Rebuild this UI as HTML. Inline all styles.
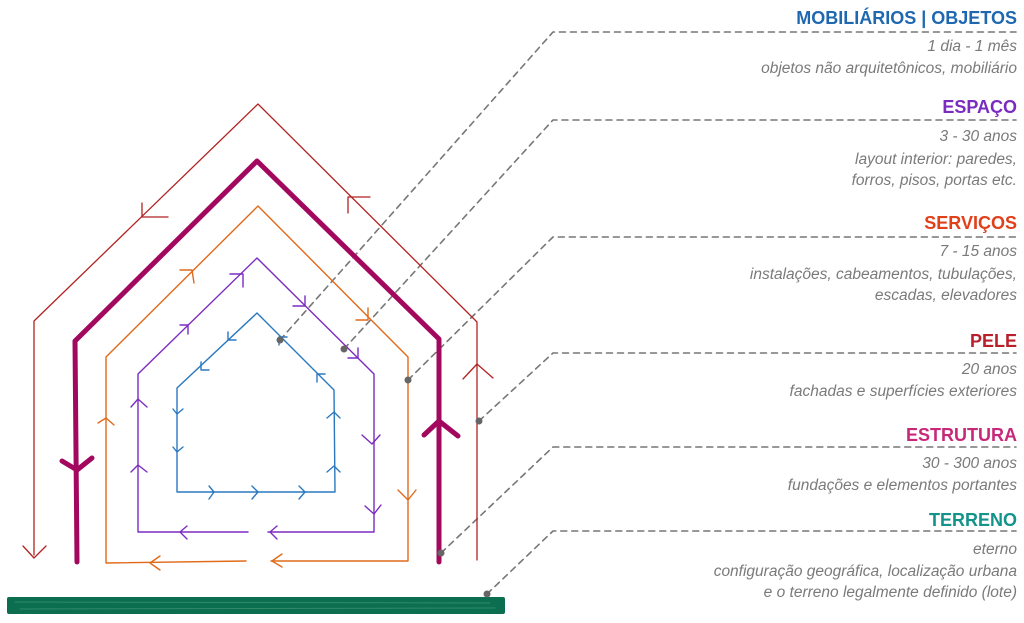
<!DOCTYPE html>
<html><head><meta charset="utf-8"><style>
html,body{margin:0;padding:0;background:#fff;width:1024px;height:623px;overflow:hidden}
svg{position:absolute;left:0;top:0}
.t{font-family:"Liberation Sans",sans-serif;text-anchor:end}
.h{font-weight:bold;font-size:18px}
.s{font-style:italic;font-size:15.5px;fill:#7a7a7a}
</style></head><body>
<svg width="1024" height="623" viewBox="0 0 1024 623" fill="none" stroke-linecap="round" stroke-linejoin="round">
<!-- leaders -->
<g stroke="#777" stroke-width="1.6" stroke-dasharray="6,5">
<polyline points="280,340 553,32 1016,32"/>
<polyline points="344,349 553,120 1016,120"/>
<polyline points="408,380 553,237 1016,237"/>
<polyline points="479,421 553,353 1016,353"/>
<polyline points="441,553 553,447 1016,447"/>
<polyline points="487,594 553,531 1016,531"/>
</g>
<!-- ground -->
<rect x="7" y="597" width="498" height="17" rx="2" fill="#0b6e4f"/>
<g stroke="#2f8a6a" stroke-width="1"><line x1="15" y1="602" x2="490" y2="603"/><line x1="20" y1="609" x2="495" y2="608"/></g>
<!-- pele red -->
<g stroke="#b22222" stroke-width="1.3">
<polyline points="34,555 34,321 258,104 477,322 477,560"/>
<polyline points="23,546 34,558 46,546"/>
<polyline points="142,203 142,217 168,217"/>
<polyline points="348,213 348,197 370,197"/>
<polyline points="463,379 477,364 493,378"/>
</g>
<!-- estrutura magenta -->
<g stroke="#a3085f" stroke-width="5">
<polyline points="77,562 75,341 257,161 439,339 439,562"/>
<polyline points="62,461 77,470 92,458"/>
<polyline points="424,435 439,421 458,436"/>
</g>
<!-- orange -->
<g stroke="#e06a1a" stroke-width="1.4">
<polyline points="246,561 106,563 106,357 258,206 408,357 408,561 271,561"/>
<polyline points="98,423 106,418 114,425"/>
<polyline points="180,270 192,270 194,283"/>
<polyline points="356,320 368,320 368,308"/>
<polyline points="398,490 408,500 416,490"/>
<polyline points="160,556 150,563 160,570"/>
<polyline points="282,554 272,561 282,567"/>
</g>
<!-- purple -->
<g stroke="#7b2cc0" stroke-width="1.4">
<polyline points="248,532 138,532 138,374 257,258 374,374 374,532 268,532"/>
<polyline points="131,407 138,399 147,407"/>
<polyline points="131,472 138,465 147,472"/>
<polyline points="180,325 188,325 188,334"/>
<polyline points="230,274 243,274 243,287"/>
<polyline points="293,306 305,306 305,296"/>
<polyline points="348,358 358,358 358,348"/>
<polyline points="362,435 372,444 380,435"/>
<polyline points="365,506 374,514 381,505"/>
<polyline points="187,526 180,532 187,539"/>
<polyline points="277,526 270,532 277,539"/>
</g>
<!-- blue -->
<g stroke="#2a78c0" stroke-width="1.4">
<polyline points="177,492 177,388 257,313 334,390 335,492 177,492"/>
<polyline points="173,409 177,414 183,409"/>
<polyline points="173,447 177,452 183,447"/>
<polyline points="201,362 201,370 209,370"/>
<polyline points="228,332 228,340 236,340"/>
<polyline points="287,337 279,337 279,345"/>
<polyline points="325,374 317,374 317,382"/>
<polyline points="327,418 334,412 340,418"/>
<polyline points="327,472 334,466 340,472"/>
<polyline points="209,486 214,492 209,499"/>
<polyline points="252,486 258,492 252,499"/>
<polyline points="299,486 305,492 299,499"/>
</g>
<!-- dots -->
<g fill="#666">
<circle cx="280" cy="340" r="3.5"/><circle cx="344" cy="349" r="3.5"/><circle cx="408" cy="380" r="3.5"/>
<circle cx="479" cy="421" r="3.5"/><circle cx="441" cy="553" r="3.5"/><circle cx="487" cy="594" r="3.5"/>
</g>
<!-- text -->
<g class="t">
<text x="1017" y="24" class="h" fill="#1f68b0">MOBILIÁRIOS | OBJETOS</text>
<text x="1017" y="51" class="s">1 dia - 1 mês</text>
<text x="1017" y="73" class="s">objetos não arquitetônicos, mobiliário</text>
<text x="1017" y="113" class="h" fill="#7b2cc0">ESPAÇO</text>
<text x="1017" y="141" class="s">3 - 30 anos</text>
<text x="1017" y="164" class="s">layout interior: paredes,</text>
<text x="1017" y="185" class="s">forros, pisos, portas etc.</text>
<text x="1017" y="229" class="h" fill="#e0401a">SERVIÇOS</text>
<text x="1017" y="256" class="s">7 - 15 anos</text>
<text x="1017" y="279" class="s">instalações, cabeamentos, tubulações,</text>
<text x="1017" y="300" class="s">escadas, elevadores</text>
<text x="1017" y="347" class="h" fill="#b8202a">PELE</text>
<text x="1017" y="374" class="s">20 anos</text>
<text x="1017" y="396" class="s">fachadas e superfícies exteriores</text>
<text x="1017" y="441" class="h" fill="#c8287a">ESTRUTURA</text>
<text x="1017" y="468" class="s">30 - 300 anos</text>
<text x="1017" y="490" class="s">fundações e elementos portantes</text>
<text x="1017" y="526" class="h" fill="#12948a">TERRENO</text>
<text x="1017" y="554" class="s">eterno</text>
<text x="1017" y="576" class="s">configuração geográfica, localização urbana</text>
<text x="1017" y="597" class="s">e o terreno legalmente definido (lote)</text>
</g>
</svg>
</body></html>
